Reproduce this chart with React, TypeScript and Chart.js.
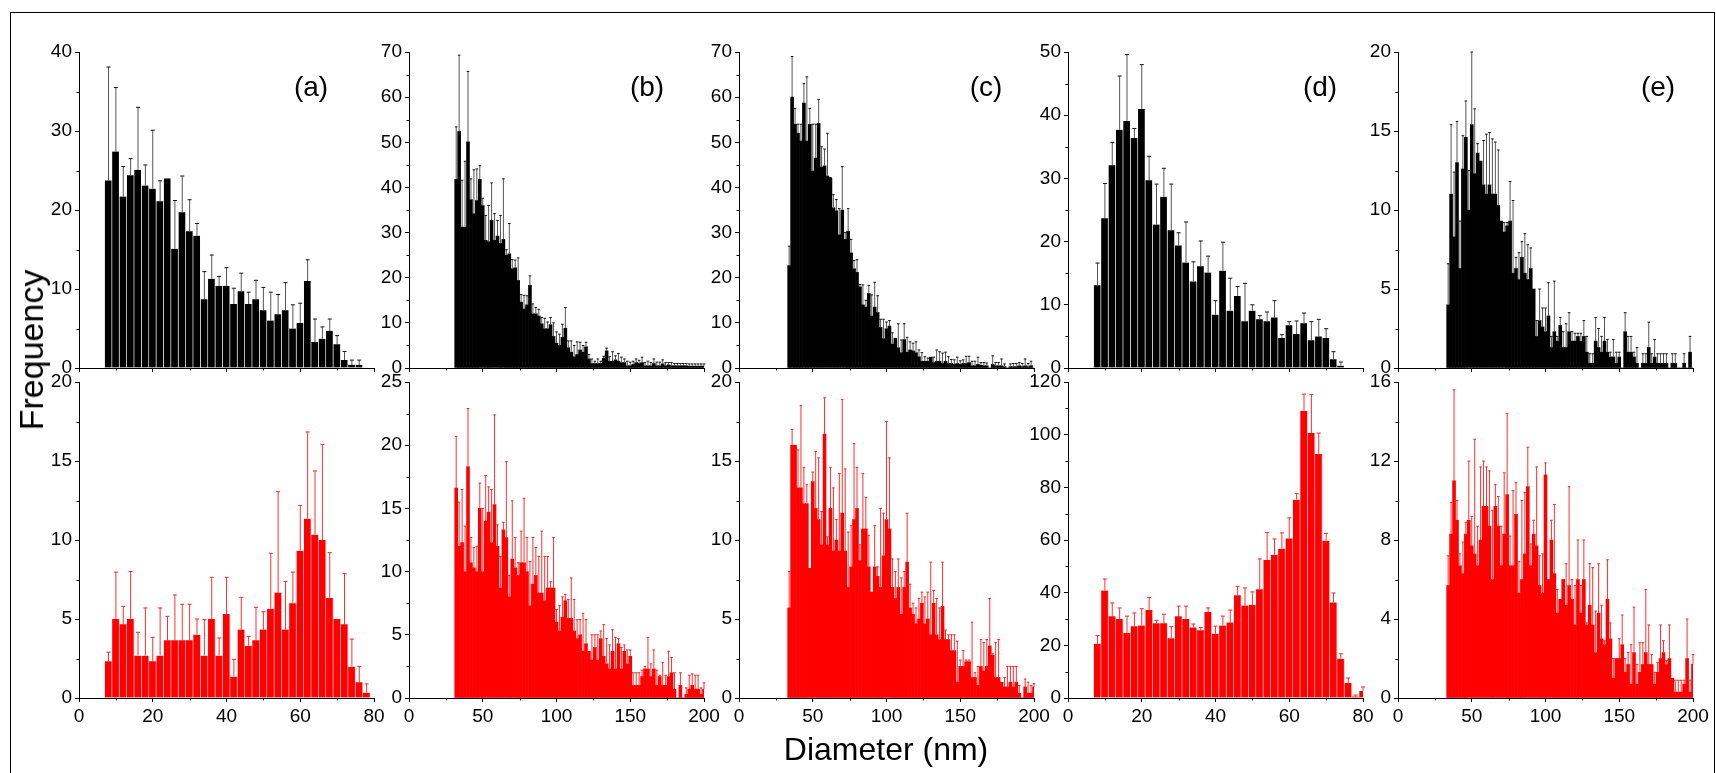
import React, { useEffect, useRef } from "react";
import { Chart, registerables } from "chart.js";

Chart.register(...registerables);

const FONT = "'Liberation Sans', Arial, Helvetica, sans-serif";

// ---------- bin centres (nm) ----------
const range = (a: number, b: number, s: number) => {
  const out: number[] = [];
  for (let v = a; v <= b + 1e-9; v += s) out.push(v);
  return out;
};
const BINS_A_TOP = range(8, 76, 2);
const BINS_A_BOT = range(8, 78, 2);
const BINS_D_TOP = range(8, 74, 2);
const BINS_D_BOT = range(8, 80, 2);
const BINS_B = range(32, 200, 2);
const BINS_CE = range(34, 200, 2);

// ---------- tick labels ----------
const X_TICKS_80 = [0, 20, 40, 60, 80];
const X_TICKS_200 = [0, 50, 100, 150, 200];
const PANEL_LABELS = ["(a)", "(b)", "(c)", "(d)", "(e)"];

// ---------- (a) ----------
const A_TOP = [23.75, 27.4, 21.7, 24.4, 25.1, 23.1, 22.7, 21.1, 24.0, 15.1, 19.7, 17.3, 16.75, 8.7, 11.3, 10.4, 10.4, 8.1, 9.7, 8.1, 8.7, 7.3, 6.0, 6.8, 7.3, 5.0, 5.7, 11.0, 3.3, 3.7, 4.7, 3.0, 1.0, 0.4, 0.4];
const A_TOP_HI = [38.1, 35.5, 25.5, 26.5, 33.0, 25.7, 30.1, 23.7, 24.0, 21.2, 24.3, 21.3, 18.3, 12.2, 14.3, 11.6, 12.7, 10.1, 12.0, 9.6, 11.1, 10.2, 9.6, 9.3, 10.8, 8.0, 8.2, 13.7, 6.2, 5.2, 6.2, 4.1, 2.1, 1.0, 1.0];
const A_BOT = [2.32, 5.0, 4.66, 5.0, 2.68, 2.68, 2.32, 2.68, 3.65, 3.65, 3.65, 3.65, 4.0, 2.68, 5.0, 2.68, 5.32, 1.35, 4.33, 3.31, 3.65, 4.33, 5.65, 6.67, 4.33, 5.99, 9.32, 11.35, 10.34, 10.0, 6.33, 5.0, 4.66, 1.98, 1.0, 0.34];
const A_BOT_HI = [2.9, 7.97, 5.8, 8.0, 4.16, 5.7, 3.84, 5.7, 5.17, 6.52, 5.93, 5.93, 5.0, 4.96, 7.64, 3.8, 7.64, 2.45, 6.37, 3.9, 5.74, 5.46, 9.16, 13.06, 7.38, 7.97, 12.19, 16.84, 14.37, 16.05, 9.2, 5.0, 7.87, 3.73, 2.0, 0.89];

// ---------- (b) ----------
const B_TOP = [
  41.8, 52.4, 31.2, 31.2, 50.1, 37.3, 34.2, 37.1, 41.8, 36.0,
  28.3, 28.0, 32.7, 28.3, 29.2, 27.6, 28.5, 25.0, 25.3, 22.0,
  22.2, 19.4, 14.6, 13.1, 14.0, 18.3, 12.0, 12.0, 11.5, 9.8,
  8.7, 8.7, 9.6, 7.0, 5.5, 5.0, 6.8, 8.8, 4.5, 3.5,
  2.5, 3.0, 4.0, 3.5, 4.7, 2.0, 1.0, 1.0, 1.0, 1.0,
  2.2, 3.8, 1.5, 1.5, 1.8, 1.5, 1.2, 1.2, 0.5, 0.5,
  0.8, 1.2, 1.0, 1.2, 0.5, 0.5, 0.5, 1.0, 0.5, 0.5,
  0.9, 0.5, 0.7, 0.5, 0.5, 0.5, 0.5, 0.5, 0.5, 0.4,
  0.4, 0.4, 0.4, 0.4, 0.4,
];
const B_TOP_HI = [
  53.4, 69.3, 41.6, 45.8, 65.7, 41.9, 43.9, 44.1, 44.8, 37.6,
  33.8, 36.0, 41.0, 34.2, 32.7, 33.8, 41.9, 26.2, 32.0, 24.0,
  23.9, 24.4, 16.3, 16.1, 16.0, 20.4, 14.2, 13.4, 13.0, 11.2,
  11.0, 10.2, 11.2, 10.0, 8.0, 7.5, 9.7, 13.4, 6.0, 6.0,
  5.0, 5.8, 5.7, 5.0, 5.7, 3.0, 2.0, 1.5, 2.0, 1.5,
  2.6, 4.4, 2.5, 3.6, 2.7, 3.2, 2.4, 2.0, 1.5, 1.3,
  1.5, 2.0, 1.7, 2.4, 1.2, 1.5, 1.2, 2.0, 1.3, 1.3,
  1.8, 1.2, 1.2, 1.2, 1.0, 1.0, 1.0, 1.0, 1.0, 0.9,
  0.9, 0.9, 0.9, 0.9, 0.9,
];
const B_BOT = [
  16.6, 12.0, 12.3, 10.0, 18.3, 10.7, 10.3, 10.0, 15.0, 10.0,
  14.0, 14.7, 12.3, 15.3, 12.0, 8.7, 13.3, 12.7, 8.0, 11.0,
  10.3, 9.7, 10.7, 10.7, 10.0, 7.3, 9.0, 9.7, 8.3, 8.3,
  7.7, 8.7, 8.7, 8.7, 6.0, 5.3, 6.4, 7.7, 6.3, 6.3,
  5.3, 4.7, 5.0, 3.7, 4.3, 3.7, 3.0, 4.0, 3.0, 4.7,
  3.3, 2.7, 2.3, 3.7, 2.3, 4.3, 2.3, 3.7, 2.7, 3.3,
  1.0, 1.0, 1.0, 1.7, 2.3, 2.3, 1.7, 2.3, 1.0, 1.7,
  1.0, 1.0, 1.7, 2.0, 0.7, 0, 1.0, 0, 0.3, 0.7,
  1.0, 0.7, 0.7, 0.3, 0.7,
];
const B_BOT_HI = [
  20.7, 15.5, 16.5, 13.6, 22.9, 12.7, 11.9, 12.0, 17.0, 15.0,
  17.6, 16.7, 16.5, 22.4, 13.7, 11.2, 13.9, 18.7, 9.7, 15.6,
  12.7, 10.7, 13.2, 15.8, 12.7, 10.8, 12.7, 11.9, 11.2, 13.2,
  11.2, 11.2, 9.2, 12.7, 7.0, 7.3, 8.0, 8.2, 7.8, 9.5,
  7.8, 6.2, 6.2, 6.7, 6.2, 3.7, 5.0, 5.0, 5.0, 5.3,
  5.8, 4.7, 4.2, 5.4, 4.8, 4.7, 4.0, 4.2, 3.8, 3.8,
  2.0, 2.0, 2.0, 2.2, 2.5, 4.8, 2.7, 3.8, 2.2, 1.8,
  2.8, 1.8, 3.7, 3.2, 2.0, 0, 2.0, 0, 0.8, 1.8,
  1.9, 1.8, 1.8, 0.8, 1.2,
];

// ---------- (c) ----------
const C_TOP = [
  22.7, 60, 54, 52, 50.3, 58.7, 50.3, 54, 43.6, 46.5,
  54.2, 44.5, 44.8, 42.5, 42, 35.5, 34.8, 29.5, 35, 28.5,
  30.3, 25.5, 22, 21.2, 18, 14, 13.5, 16.5, 11.5, 13.5,
  12.3, 9.0, 6.5, 8.7, 9.3, 5.3, 6.6, 4.5, 3.4, 6.3,
  3.5, 4.0, 3.8, 3.4, 2.5, 1.5, 1.5, 1.5, 2.4, 1.2,
  1.5, 1.5, 1.0, 1.5, 1.0, 1.0, 0.8, 1.0, 0.8, 1.0,
  1.0, 1.2, 0.5, 0.5, 0.8, 0.6, 0.5, 0.5, 0, 0.8,
  0.5, 0.5, 0.5, 0.3, 0, 0.3, 0.3, 0.3, 0.5, 0.3,
  0.5, 0.3, 0.5, 0,
];
const C_TOP_HI = [
  27, 69, 57.5, 54, 54, 63, 64.5, 57.5, 54, 54,
  59.5, 49, 48.5, 52, 42.2, 38.4, 37.3, 35.3, 44.6, 30,
  35.3, 28.5, 23.8, 24, 18.5, 18.4, 15, 18.3, 16.2, 19,
  16, 10.8, 10.8, 10.2, 10.5, 7.8, 6.6, 9.8, 6.2, 9.8,
  6.8, 5.8, 5.5, 5.8, 4.0, 3.4, 2.5, 2.2, 2.4, 2.4,
  4.0, 3.6, 3.3, 3.5, 2.5, 1.9, 1.8, 2.4, 1.6, 1.8,
  2.6, 2.6, 1.5, 1.5, 2.4, 1.2, 1.2, 1.1, 0, 2.7,
  1.2, 1.2, 2.0, 0.9, 0, 0.9, 1.0, 1.0, 1.2, 1.0,
  2.0, 1.0, 1.5, 0,
];
const C_BOT = [
  5.7, 16.0, 16.0, 13.3, 13.3, 12.3, 12.3, 8.2, 13.7, 12.0,
  11.3, 9.7, 16.7, 9.7, 12.0, 9.3, 10.0, 9.3, 11.7, 9.3,
  7.0, 8.3, 11.3, 12.0, 8.7, 10.7, 10.7, 8.3, 6.7, 8.3,
  7.7, 7.0, 9.0, 11.3, 10.7, 7.0, 6.3, 7.0, 5.3, 7.0,
  8.6, 5.7, 5.3, 4.7, 5.0, 6.0, 4.7, 5.0, 4.0, 6.0,
  4.0, 3.7, 5.8, 3.7, 3.7, 3.0, 3.0, 1.0, 2.0, 2.0,
  2.3, 2.3, 1.3, 1.3, 0.8, 2.0, 1.7, 2.0, 3.3, 2.7,
  1.3, 1.3, 1.0, 0.7, 0.7, 1.0, 0.7, 1.0, 0.3, 0,
  0.7, 0.3, 0.3, 0.7,
];
const C_BOT_HI = [
  8.0, 17.0, 16.0, 15.7, 18.5, 14.6, 13.5, 8.2, 14.3, 15.6,
  15.2, 11.8, 19.0, 10.2, 14.6, 13.3, 11.3, 14.2, 18.9, 14.5,
  10.5, 10.9, 16.1, 14.6, 9.7, 14.2, 12.7, 10.3, 6.7, 10.9,
  8.3, 12.0, 11.7, 17.5, 15.2, 8.8, 8.0, 8.8, 7.6, 8.0,
  11.7, 7.2, 6.0, 5.7, 6.3, 6.7, 6.4, 6.7, 8.6, 6.8,
  6.3, 5.7, 8.6, 4.3, 4.0, 4.0, 4.0, 3.6, 2.4, 3.0,
  2.4, 2.4, 4.8, 1.6, 2.0, 3.7, 3.5, 3.7, 6.3, 2.8,
  3.5, 3.7, 1.0, 1.3, 2.0, 2.0, 2.0, 2.0, 0.8, 0,
  1.2, 1.0, 0.8, 0.9,
];

// ---------- (d) ----------
const D_TOP = [13.08, 23.7, 32.1, 37.7, 39.1, 36.4, 41.0, 29.7, 22.7, 27.1, 21.8, 19.4, 16.7, 13.7, 16.1, 15.1, 8.44, 15.4, 9.07, 11.4, 7.38, 9.07, 7.7, 7.38, 8.0, 4.75, 6.75, 5.38, 7.07, 4.38, 5.0, 4.75, 1.37, 0.37];
const D_TOP_HI = [16.6, 29.2, 35.7, 46.2, 49.6, 37.9, 48.0, 33.5, 29.1, 31.6, 29.1, 21.4, 23.1, 16.8, 20.1, 17.7, 10.65, 19.9, 14.2, 12.9, 13.4, 10.0, 8.28, 8.86, 10.65, 5.27, 7.33, 7.44, 8.7, 7.33, 7.7, 6.22, 2.58, 0.95];
const D_BOT = [20.6, 40.8, 31.0, 30.0, 24.7, 27.2, 27.5, 33.4, 28.4, 28.4, 22.7, 31.0, 30.0, 26.8, 25.7, 32.7, 24.4, 27.5, 28.7, 39.0, 35.1, 35.4, 41.3, 52.4, 54.4, 56.7, 60.6, 75.3, 109.0, 100.6, 92.7, 59.7, 36.3, 14.9, 5.7, 0.6, 2.7];
const D_BOT_HI = [23.7, 45.2, 36.1, 34.2, 31.1, 32.3, 33.9, 38.2, 29.5, 31.8, 27.1, 34.9, 34.9, 28.1, 26.8, 34.2, 27.3, 31.1, 33.4, 42.4, 41.8, 40.3, 52.8, 62.8, 60.4, 62.7, 68.4, 77.6, 115.4, 115.3, 100.6, 62.5, 39.9, 16.8, 7.6, 1.1, 4.2];

// ---------- (e) ----------
const E_TOP = [
  4.0, 11.0, 8.3, 13.0, 6.3, 12.6, 14.6, 10.0, 15.4, 12.3,
  13.6, 13.1, 11.6, 11.0, 11.6, 11.0, 11.0, 10.3, 9.3, 8.6,
  9.0, 9.3, 6.0, 6.3, 5.6, 7.0, 6.0, 5.6, 6.3, 5.0,
  2.0, 3.0, 2.6, 2.3, 3.3, 1.3, 2.3, 1.7, 2.7, 1.3,
  1.3, 2.3, 1.7, 1.7, 2.0, 1.7, 2.0, 1.0, 0.3, 0.3,
  1.7, 1.3, 1.0, 1.7, 1.0, 0.7, 0.7, 0.3, 0.7, 0,
  2.3, 1.0, 1.0, 0.7, 0.3, 0, 0.3, 0.3, 1.3, 0.3,
  0.7, 0.3, 0.3, 0.3, 0.3, 0, 0.3, 0.3, 0, 0,
  0.3, 0, 1.0, 0,
];
const E_TOP_HI = [
  6.6, 15.4, 12.4, 15.6, 9.3, 14.7, 16.9, 12.5, 20.0, 16.4,
  14.2, 13.1, 14.4, 14.8, 14.9, 14.5, 14.3, 13.8, 9.3, 9.2,
  9.2, 11.8, 10.6, 7.0, 7.3, 8.0, 8.5, 7.8, 7.6, 5.0,
  3.0, 5.0, 3.8, 3.8, 5.4, 2.0, 5.5, 2.0, 3.2, 2.3,
  2.8, 3.5, 2.3, 2.2, 2.2, 2.2, 3.0, 2.0, 0.9, 0.9,
  3.2, 2.5, 2.0, 3.2, 1.8, 1.0, 1.8, 1.0, 1.0, 0,
  3.5, 2.0, 2.0, 1.0, 1.3, 0, 0.9, 0.9, 2.9, 0.9,
  1.8, 0.9, 0.9, 0.9, 0.9, 0, 0.9, 0.9, 0, 0,
  0.9, 0, 2.0, 0,
];
const E_BOT = [
  5.7, 8.3, 11.0, 9.0, 6.7, 6.3, 8.3, 9.0, 7.7, 7.3,
  6.7, 8.0, 9.7, 9.7, 8.7, 6.0, 9.7, 8.7, 6.7, 8.3,
  10.3, 6.7, 6.7, 9.3, 5.3, 6.0, 7.3, 10.7, 6.7, 8.3,
  7.7, 5.7, 5.3, 11.3, 6.0, 8.0, 6.3, 4.3, 5.0, 6.0,
  4.7, 5.7, 5.0, 3.7, 6.0, 4.3, 6.0, 3.7, 4.7, 3.7,
  2.3, 4.3, 3.0, 2.7, 5.0, 3.0, 1.0, 2.0, 2.0, 2.7,
  1.3, 1.7, 0.7, 2.3, 0.7, 1.3, 1.7, 2.3, 1.7, 1.7,
  0.7, 1.3, 2.0, 2.3, 1.7, 2.0, 1.0, 0.3, 0.3, 0.3,
  0.7, 2.0, 0.3, 1.7,
];
const E_BOT_HI = [
  7.2, 9.9, 15.6, 10.0, 7.3, 7.9, 8.9, 12.0, 9.2, 13.1,
  8.7, 11.7, 12.0, 11.7, 11.5, 9.5, 10.8, 10.2, 8.7, 11.4,
  14.4, 8.2, 10.5, 10.9, 6.9, 10.0, 10.4, 12.7, 7.8, 9.0,
  11.7, 7.2, 7.3, 11.9, 6.0, 9.0, 9.8, 5.5, 5.0, 6.0,
  6.8, 10.7, 6.0, 5.7, 8.0, 5.7, 8.0, 3.8, 6.8, 6.6,
  4.4, 6.8, 4.7, 2.9, 7.0, 3.8, 2.0, 2.0, 3.0, 4.2,
  2.0, 2.3, 2.7, 4.6, 1.7, 2.8, 2.8, 5.5, 3.7, 2.2,
  1.3, 1.8, 3.7, 2.9, 1.9, 3.7, 1.0, 0.9, 0.9, 0.9,
  0.9, 4.0, 0.9, 2.2,
];

// ---------- layout ----------
const COL_LEFT = [79, 409, 739, 1068, 1398];
const ROW_TOP = [52, 382];
const PW = 295;
const PH = 316;
const PAD_L = 70;
const PAD_T = 20;
const PAD_R = 25;
const PAD_B = 45;

type Cfg = {
  key: string;
  col: number;
  row: number;
  bins: number[];
  vals: number[];
  hi: number[];
  xMax: number;
  xTicks: number[];
  yMax: number;
  yStep: number;
  red: boolean;
  wide: boolean;
  label?: string;
  labelDx?: number;
};

const PANELS: Cfg[] = [
  { key: "at", col: 0, row: 0, bins: BINS_A_TOP, vals: A_TOP, hi: A_TOP_HI, xMax: 80, xTicks: X_TICKS_80, yMax: 40, yStep: 10, red: false, wide: true, label: PANEL_LABELS[0], labelDx: 63 },
  { key: "bt", col: 1, row: 0, bins: BINS_B, vals: B_TOP, hi: B_TOP_HI, xMax: 200, xTicks: X_TICKS_200, yMax: 70, yStep: 10, red: false, wide: false, label: PANEL_LABELS[1], labelDx: 57 },
  { key: "ct", col: 2, row: 0, bins: BINS_CE, vals: C_TOP, hi: C_TOP_HI, xMax: 200, xTicks: X_TICKS_200, yMax: 70, yStep: 10, red: false, wide: false, label: PANEL_LABELS[2], labelDx: 48 },
  { key: "dt", col: 3, row: 0, bins: BINS_D_TOP, vals: D_TOP, hi: D_TOP_HI, xMax: 80, xTicks: X_TICKS_80, yMax: 50, yStep: 10, red: false, wide: true, label: PANEL_LABELS[3], labelDx: 43 },
  { key: "et", col: 4, row: 0, bins: BINS_CE, vals: E_TOP, hi: E_TOP_HI, xMax: 200, xTicks: X_TICKS_200, yMax: 20, yStep: 5, red: false, wide: false, label: PANEL_LABELS[4], labelDx: 35 },
  { key: "ab", col: 0, row: 1, bins: BINS_A_BOT, vals: A_BOT, hi: A_BOT_HI, xMax: 80, xTicks: X_TICKS_80, yMax: 20, yStep: 5, red: true, wide: true },
  { key: "bb", col: 1, row: 1, bins: BINS_B, vals: B_BOT, hi: B_BOT_HI, xMax: 200, xTicks: X_TICKS_200, yMax: 25, yStep: 5, red: true, wide: false },
  { key: "cb", col: 2, row: 1, bins: BINS_CE, vals: C_BOT, hi: C_BOT_HI, xMax: 200, xTicks: X_TICKS_200, yMax: 20, yStep: 5, red: true, wide: false },
  { key: "db", col: 3, row: 1, bins: BINS_D_BOT, vals: D_BOT, hi: D_BOT_HI, xMax: 80, xTicks: X_TICKS_80, yMax: 120, yStep: 20, red: true, wide: true },
  { key: "eb", col: 4, row: 1, bins: BINS_CE, vals: E_BOT, hi: E_BOT_HI, xMax: 200, xTicks: X_TICKS_200, yMax: 16, yStep: 4, red: true, wide: false },
];

function Panel({ cfg }: { cfg: Cfg }) {
  const ref = useRef<HTMLCanvasElement | null>(null);
  useEffect(() => {
    const canvas = ref.current;
    if (!canvas) return;
    const fill = cfg.red ? "#ff0000" : "#000000";
    const errColor = cfg.red ? "#ff3030" : "#555555";
    const capColor = cfg.red ? "#ff2020" : "#111111";
    const cap = cfg.wide ? 2 : 1.3;
    const xStep = cfg.xTicks[1] - cfg.xTicks[0];

    const extras = {
      id: "extras",
      afterDatasetsDraw(chart: any) {
        const { ctx, chartArea: ca } = chart;
        const xs = chart.scales.x;
        const ys = chart.scales.y;
        ctx.save();
        ctx.lineWidth = 1;
        for (let i = 0; i < cfg.bins.length; i++) {
          const v = cfg.vals[i];
          const h = cfg.hi[i];
          if (!(h > v)) continue;
          const px = xs.getPixelForValue(cfg.bins[i]);
          if (px < ca.left || px > ca.right) continue;
          const y0 = ys.getPixelForValue(v);
          const y1 = ys.getPixelForValue(h);
          ctx.strokeStyle = errColor;
          ctx.beginPath();
          ctx.moveTo(px, y0);
          ctx.lineTo(px, y1);
          ctx.stroke();
          ctx.strokeStyle = capColor;
          ctx.beginPath();
          ctx.moveTo(px - cap, y1);
          ctx.lineTo(px + cap, y1);
          ctx.stroke();
        }
        // minor ticks
        ctx.strokeStyle = "#000";
        for (let v = cfg.yStep / 2; v < cfg.yMax; v += cfg.yStep) {
          const py = Math.round(ys.getPixelForValue(v)) + 0.5;
          ctx.beginPath();
          ctx.moveTo(ca.left - 2.5, py);
          ctx.lineTo(ca.left, py);
          ctx.stroke();
        }
        for (let v = xStep / 2; v < cfg.xMax; v += xStep) {
          const px = Math.round(xs.getPixelForValue(v)) + 0.5;
          ctx.beginPath();
          ctx.moveTo(px, ca.bottom);
          ctx.lineTo(px, ca.bottom + 2.5);
          ctx.stroke();
        }
        if (cfg.label) {
          ctx.font = `28px ${FONT}`;
          ctx.fillStyle = "#000";
          ctx.textAlign = "center";
          ctx.textBaseline = "middle";
          ctx.fillText(cfg.label, ca.right - (cfg.labelDx || 40), ca.top + 36);
        }
        ctx.restore();
      },
    };

    const chart = new Chart(canvas, {
      type: "bar",
      data: {
        datasets: [
          {
            data: cfg.bins.map((b, i) => ({ x: b, y: cfg.vals[i] })),
            backgroundColor: fill,
            borderColor: cfg.red ? "rgba(255,190,190,0.9)" : "rgba(255,255,255,0.75)",
            borderWidth: cfg.wide ? { top: 0, right: 1, bottom: 0, left: 0 } : 0,
            borderSkipped: "start",
            barPercentage: 1,
            categoryPercentage: 1,
          } as any,
        ],
      },
      options: {
        animation: false,
        responsive: false,
        maintainAspectRatio: false,
        events: [],
        layout: { padding: { top: PAD_T, right: PAD_R, bottom: 0, left: 0 } },
        plugins: { legend: { display: false }, tooltip: { enabled: false } },
        scales: {
          x: {
            type: "linear",
            min: 0,
            max: cfg.xMax,
            offset: false,
            afterFit: (s: any) => {
              s.height = PAD_B;
            },
            afterBuildTicks: (s: any) => {
              s.ticks = cfg.xTicks.map((v) => ({ value: v }));
            },
            grid: { display: true, drawOnChartArea: false, drawTicks: true, tickLength: 4, color: "#000", offset: false },
            border: { display: true, color: "#000", width: 1 },
            ticks: {
              display: cfg.row === 1,
              padding: 3,
              color: "#000",
              font: { family: FONT, size: 19 },
              maxRotation: 0,
              autoSkip: false,
            },
          },
          y: {
            type: "linear",
            min: 0,
            max: cfg.yMax,
            afterFit: (s: any) => {
              s.width = PAD_L;
            },
            grid: { display: true, drawOnChartArea: false, drawTicks: true, tickLength: 4, color: "#000" },
            border: { display: true, color: "#000", width: 1 },
            ticks: {
              stepSize: cfg.yStep,
              padding: 3,
              color: "#000",
              font: { family: FONT, size: 19 },
            },
          },
        },
      } as any,
      plugins: [extras as any],
    });
    return () => chart.destroy();
  }, [cfg]);

  const left = COL_LEFT[cfg.col] - PAD_L;
  const top = ROW_TOP[cfg.row] - PAD_T;
  return (
    <canvas
      ref={ref}
      width={PAD_L + PW + PAD_R}
      height={PAD_T + PH + PAD_B}
      style={{ position: "absolute", left, top, width: PAD_L + PW + PAD_R, height: PAD_T + PH + PAD_B }}
    />
  );
}

export default function App() {
  return (
    <div
      style={{
        position: "fixed",
        left: 0,
        top: 0,
        width: 1716,
        height: 773,
        overflow: "hidden",
        background: "#fff",
        fontFamily: FONT,
        color: "#000",
      }}
    >
      <div
        style={{
          position: "absolute",
          left: 10,
          top: 12,
          width: 1705,
          height: 800,
          border: "1.5px solid #000",
          boxSizing: "border-box",
        }}
      />
      {PANELS.map((p) => (
        <Panel key={p.key} cfg={p} />
      ))}
      <div
        style={{
          position: "absolute",
          left: 886,
          top: 733,
          transform: "translateX(-50%)",
          fontSize: 32,
          lineHeight: 1,
          whiteSpace: "nowrap",
        }}
      >
        Diameter (nm)
      </div>
      <div
        style={{
          position: "absolute",
          left: 31,
          top: 350,
          transform: "translate(-50%, -50%) rotate(-90deg)",
          fontSize: 34,
          lineHeight: 1,
          whiteSpace: "nowrap",
        }}
      >
        Frequency
      </div>
    </div>
  );
}
